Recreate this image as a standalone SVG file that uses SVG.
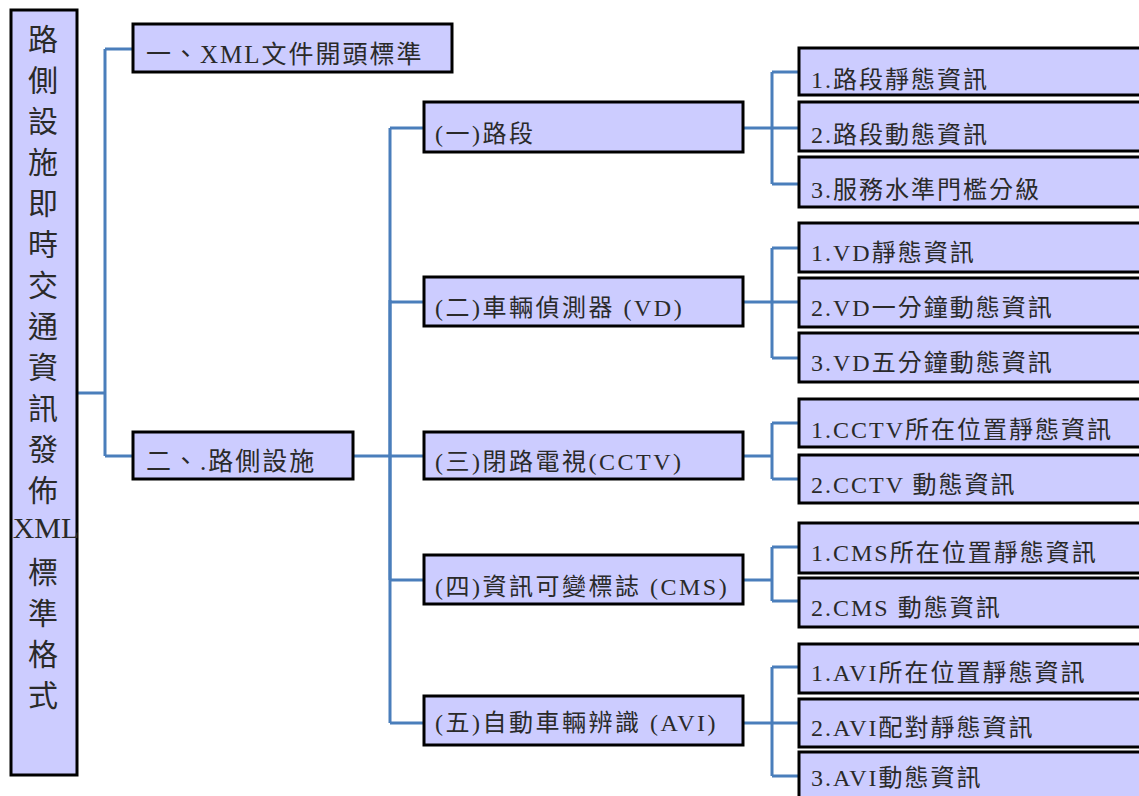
<svg xmlns="http://www.w3.org/2000/svg" width="1139" height="796" viewBox="0 0 1139 796">
<style>
.box{fill:#ccccff;stroke:#000;stroke-width:3}
.t{font-family:"Liberation Serif","Noto Sans CJK TC",serif;fill:#2a2a2a}
.r{font-size:30px;text-anchor:middle}
.l1{font-size:25px;letter-spacing:2px}
.l2{font-size:24px;letter-spacing:2.5px}
.l3{font-size:24px;letter-spacing:2px}
.c{fill:none;stroke:#4a7ebb;stroke-width:3}
</style>
<rect width="1139" height="796" fill="#fff"/>
<g id="connectors">
<path class="c" d="M77,393H105M105,49V456M105,49H133M105,456H133"/>
<path class="c" d="M353,456H390M390,128V723M390,128H424M390,302H424M390,456H424M390,580H424M390,723H424"/>
<path class="c" stroke-width="4" d="M390,300V580"/>
<path class="c" d="M743,128H772M772,72V184M772,72H799M772,128H799M772,184H799"/>
<path class="c" d="M743,302H772M772,248V358M772,248H799M772,302H799M772,358H799"/>
<path class="c" d="M743,456H772M772,423V479M772,423H799M772,479H799"/>
<path class="c" d="M743,580H772M772,547V601M772,547H799M772,601H799"/>
<path class="c" d="M772,667V776M772,667H799M772,723H799M772,776H799"/>
<path class="c" stroke-width="5" d="M743,723H772"/>
</g>
<g id="root">
<rect class="box" x="11" y="10" width="66" height="765"/>
<text class="t r" x="43" y="50">路</text>
<text class="t r" x="43" y="91">側</text>
<text class="t r" x="43" y="132">設</text>
<text class="t r" x="43" y="173">施</text>
<text class="t r" x="43" y="214">即</text>
<text class="t r" x="43" y="255">時</text>
<text class="t r" x="43" y="296">交</text>
<text class="t r" x="43" y="337">通</text>
<text class="t r" x="43" y="378">資</text>
<text class="t r" x="43" y="419">訊</text>
<text class="t r" x="43" y="460">發</text>
<text class="t r" x="43" y="501">佈</text>
<text class="t r" x="46" y="538">XML</text>
<text class="t r" x="43" y="583">標</text>
<text class="t r" x="43" y="624">準</text>
<text class="t r" x="43" y="665">格</text>
<text class="t r" x="43" y="706">式</text>
</g>
<g id="n1">
<rect class="box" x="133" y="24" width="319" height="48"/>
<text class="t l1" x="146" y="63">一、XML文件開頭標準</text>
</g>
<g id="n2">
<rect class="box" x="133" y="432" width="220" height="47"/>
<text class="t l1" x="146" y="470">二、.路側設施</text>
</g>
<g id="n2-1">
<rect class="box" x="424" y="102" width="319" height="50"/>
<text class="t l2" x="435" y="142">(一)路段</text>
</g>
<g id="n2-2">
<rect class="box" x="424" y="277" width="319" height="49"/>
<text class="t l2" x="435" y="316">(二)車輛偵測器 (VD)</text>
</g>
<g id="n2-3">
<rect class="box" x="424" y="432" width="319" height="47"/>
<text class="t l2" x="435" y="470">(三)閉路電視(CCTV)</text>
</g>
<g id="n2-4">
<rect class="box" x="424" y="555" width="319" height="49"/>
<text class="t l2" x="435" y="595">(四)資訊可變標誌 (CMS)</text>
</g>
<g id="n2-5">
<rect class="box" x="424" y="696" width="319" height="49"/>
<text class="t l2" x="435" y="731">(五)自動車輛辨識 (AVI)</text>
</g>
<g id="n3-1-1"><rect class="box" x="799" y="48" width="345" height="47"/><text class="t l3" x="811" y="88">1.路段靜態資訊</text></g>
<g id="n3-1-2"><rect class="box" x="799" y="102" width="345" height="49"/><text class="t l3" x="811" y="143">2.路段動態資訊</text></g>
<g id="n3-1-3"><rect class="box" x="799" y="157" width="345" height="50"/><text class="t l3" x="811" y="198">3.服務水準門檻分級</text></g>
<g id="n3-2-1"><rect class="box" x="799" y="223" width="345" height="49"/><text class="t l3" x="811" y="261">1.VD靜態資訊</text></g>
<g id="n3-2-2"><rect class="box" x="799" y="278" width="345" height="49"/><text class="t l3" x="811" y="316">2.VD一分鐘動態資訊</text></g>
<g id="n3-2-3"><rect class="box" x="799" y="333" width="345" height="49"/><text class="t l3" x="811" y="371">3.VD五分鐘動態資訊</text></g>
<g id="n3-3-1"><rect class="box" x="799" y="399" width="345" height="48"/><text class="t l3" x="811" y="438">1.CCTV所在位置靜態資訊</text></g>
<g id="n3-3-2"><rect class="box" x="799" y="455" width="345" height="48"/><text class="t l3" x="811" y="493">2.CCTV 動態資訊</text></g>
<g id="n3-4-1"><rect class="box" x="799" y="523" width="345" height="50"/><text class="t l3" x="811" y="561">1.CMS所在位置靜態資訊</text></g>
<g id="n3-4-2"><rect class="box" x="799" y="578" width="345" height="49"/><text class="t l3" x="811" y="616">2.CMS 動態資訊</text></g>
<g id="n3-5-1"><rect class="box" x="799" y="644" width="345" height="49"/><text class="t l3" x="811" y="681">1.AVI所在位置靜態資訊</text></g>
<g id="n3-5-2"><rect class="box" x="799" y="699" width="345" height="48"/><text class="t l3" x="811" y="736">2.AVI配對靜態資訊</text></g>
<g id="n3-5-3"><rect class="box" x="799" y="752" width="345" height="50"/><text class="t l3" x="811" y="786">3.AVI動態資訊</text></g>
</svg>
